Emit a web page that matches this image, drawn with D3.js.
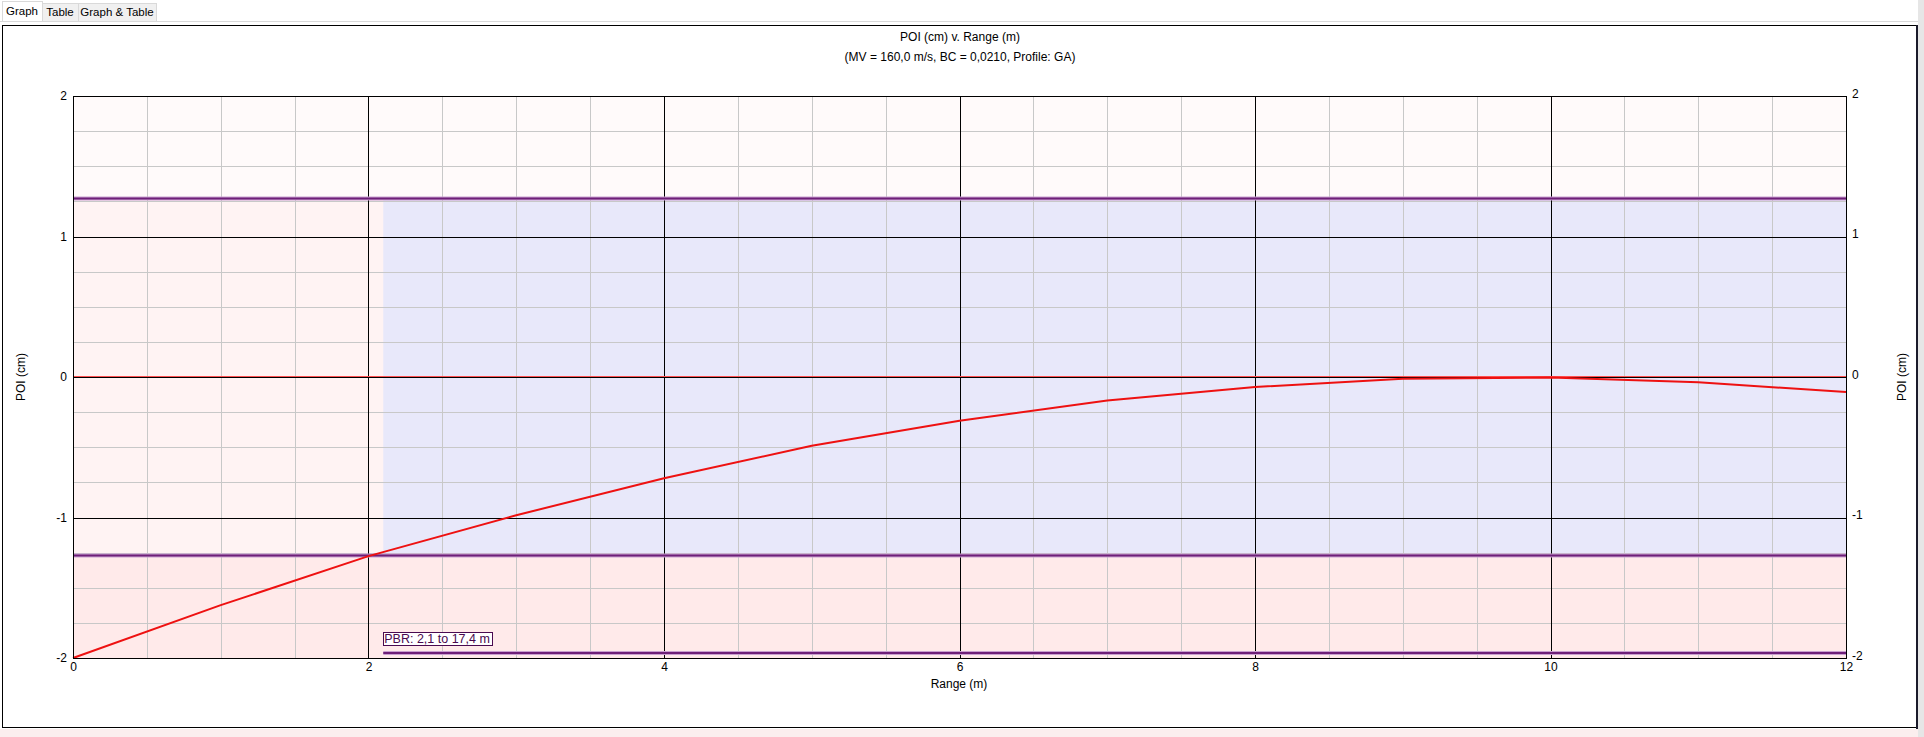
<!DOCTYPE html>
<html>
<head>
<meta charset="utf-8">
<script src="https://cdn.jsdelivr.net/npm/d3@7"></script>
<style>
  body { margin: 0; background: #fff; font-family: "Liberation Sans", Arial, sans-serif; }
  svg text { font-family: "Liberation Sans", Arial, sans-serif; }
</style>
</head>
<body>
<div id="chart"></div>
<script>
// data
var rangeM = [0, 1, 2, 3, 4, 5, 6, 7, 8, 9, 10, 11, 12];
var poiCm = [-2, -1.624, -1.275, -0.984, -0.72, -0.49, -0.312, -0.167, -0.071, -0.012, -0.003, -0.038, -0.107];
var xTicks = [0, 2, 4, 6, 8, 10, 12];
var yTicks = [-2, -1, 0, 1, 2];
var tabs = ["Graph", "Table", "Graph & Table"];
var zoneHalf = 1.27;
var pbrStart = 2.1;
var pbrLevel = -1.965;
var pbrLabel = "PBR: 2,1 to 17,4 m";

var W = 1924, H = 737;
var plotLeft = 73, plotRight = 1846, plotTop = 96, plotBottom = 658;

var svg = d3.select("#chart").append("svg")
    .attr("width", W)
    .attr("height", H);

// window chrome
svg.append("rect").attr("x", 0).attr("y", 729).attr("width", W).attr("height", 8).attr("fill", "#fbeeee");
svg.append("rect").attr("x", 1918).attr("y", 0).attr("width", 6).attr("height", H).attr("fill", "#e6e6e6");
svg.append("line").attr("x1", 0).attr("x2", 1918).attr("y1", 21.5).attr("y2", 21.5).attr("stroke", "#d9d9d9");

var tabWidths = [40, 36, 78];
var tx = 2;
var tabG = svg.append("g");
tabs.forEach(function(t, i) {
  var sel = i == 0;
  tabG.append("rect")
    .attr("x", tx + 0.5).attr("y", sel ? 1.5 : 3.5)
    .attr("width", tabWidths[i]).attr("height", sel ? 20 : 18)
    .attr("fill", sel ? "#fff" : "#f0f0f0")
    .attr("stroke", "#d9d9d9");
  tabG.append("text")
    .attr("x", tx + tabWidths[i] / 2).attr("y", sel ? 15 : 16)
    .attr("text-anchor", "middle")
    .attr("font-size", "11.5px")
    .text(t);
  tx += tabWidths[i];
});

svg.append("rect")
    .attr("x", 2.5).attr("y", 25.5).attr("width", 1914).attr("height", 702)
    .attr("fill", "#fff").attr("stroke", "#000");
svg.append("line").attr("x1", 1917).attr("x2", 1917).attr("y1", 25).attr("y2", 729)
    .attr("stroke", "#1a1a2a").attr("stroke-width", 2);

var x = d3.scaleLinear().domain([0, 12]).range([plotLeft, plotRight]);
var y = d3.scaleLinear().domain([-2, 2]).range([plotBottom, plotTop]);

var plot = svg.append("g");

// background zones
plot.append("rect")
    .attr("x", x(0)).attr("y", y(2)).attr("width", x(12) - x(0)).attr("height", y(zoneHalf) - y(2))
    .attr("fill", "#fffafa");
plot.append("rect")
    .attr("x", x(0)).attr("y", y(zoneHalf)).attr("width", x(12) - x(0)).attr("height", y(-zoneHalf) - y(zoneHalf))
    .attr("fill", "#fff3f3");
plot.append("rect")
    .attr("x", x(pbrStart)).attr("y", y(zoneHalf)).attr("width", x(12) - x(pbrStart)).attr("height", y(-zoneHalf) - y(zoneHalf))
    .attr("fill", "#e8e8fa");
plot.append("rect")
    .attr("x", x(0)).attr("y", y(-zoneHalf)).attr("width", x(12) - x(0)).attr("height", y(-2) - y(-zoneHalf))
    .attr("fill", "#ffeaea");

// minor grid
var xMinor = d3.range(0, 12.01, 0.5);
var yMinor = d3.range(-2, 2.01, 0.25);
plot.append("g").selectAll("line")
    .data(xMinor)
    .enter().append("line")
    .attr("x1", d => Math.round(x(d)) + 0.5).attr("x2", d => Math.round(x(d)) + 0.5)
    .attr("y1", y(2)).attr("y2", y(-2))
    .attr("stroke", "#c8c8c8");
plot.append("g").selectAll("line")
    .data(yMinor)
    .enter().append("line")
    .attr("y1", d => Math.round(y(d)) + 0.5).attr("y2", d => Math.round(y(d)) + 0.5)
    .attr("x1", x(0)).attr("x2", x(12))
    .attr("stroke", "#c8c8c8");

// major grid
plot.append("g").selectAll("line")
    .data(xTicks)
    .enter().append("line")
    .attr("x1", d => Math.round(x(d)) + 0.5).attr("x2", d => Math.round(x(d)) + 0.5)
    .attr("y1", y(2)).attr("y2", y(-2))
    .attr("stroke", "#000");
plot.append("g").selectAll("line")
    .data(yTicks)
    .enter().append("line")
    .attr("y1", d => Math.round(y(d)) + 0.5).attr("y2", d => Math.round(y(d)) + 0.5)
    .attr("x1", x(0)).attr("x2", x(12))
    .attr("stroke", "#000");

// sight line
plot.append("line")
    .attr("x1", x(0)).attr("x2", x(12))
    .attr("y1", Math.round(y(0)) - 0.5).attr("y2", Math.round(y(0)) - 0.5)
    .attr("stroke", "#ff5050");

// zone limits
[zoneHalf, -zoneHalf].forEach(function(v) {
  plot.append("line")
    .attr("x1", x(0)).attr("x2", x(12))
    .attr("y1", y(v)).attr("y2", y(v))
    .attr("stroke", "#c9a0d0").attr("stroke-width", 4);
  plot.append("line")
    .attr("x1", x(0)).attr("x2", x(12))
    .attr("y1", y(v)).attr("y2", y(v))
    .attr("stroke", "#6e1f78").attr("stroke-width", 2);
});

// PBR marker
plot.append("line")
    .attr("x1", x(pbrStart)).attr("x2", x(12))
    .attr("y1", y(pbrLevel)).attr("y2", y(pbrLevel))
    .attr("stroke", "#c9a0d0").attr("stroke-width", 4);
plot.append("line")
    .attr("x1", x(pbrStart)).attr("x2", x(12))
    .attr("y1", y(pbrLevel)).attr("y2", y(pbrLevel))
    .attr("stroke", "#6e1f78").attr("stroke-width", 2);

var pbrText = plot.append("text")
    .attr("x", x(pbrStart) + 1).attr("y", y(pbrLevel) - 10)
    .attr("font-size", "12.5px")
    .attr("fill", "#4a0a50")
    .text(pbrLabel);
var bb = pbrText.node().getBBox();
plot.insert("rect", "text")
    .attr("x", Math.round(bb.x) - 0.5).attr("y", Math.round(bb.y) + 0.5)
    .attr("width", Math.round(bb.width) + 3).attr("height", Math.round(bb.height) - 1)
    .attr("fill", "#fff")
    .attr("stroke", "#4a0a50");

// trajectory
var line = d3.line().x((d, i) => x(rangeM[i])).y(d => y(d));
plot.append("path")
    .datum(poiCm)
    .attr("d", line)
    .attr("fill", "none")
    .attr("stroke", "#ee1111")
    .attr("stroke-width", 2);

// frame
plot.append("rect")
    .attr("x", plotLeft + 0.5).attr("y", plotTop + 0.5)
    .attr("width", plotRight - plotLeft).attr("height", plotBottom - plotTop)
    .attr("fill", "none").attr("stroke", "#000");

// axes (labels only)
var fmt = d => String(d);
var axL = svg.append("g").attr("transform", "translate(" + plotLeft + ",0)")
    .call(d3.axisLeft(y).tickValues(yTicks).tickSize(0).tickPadding(6).tickFormat(fmt));
var axR = svg.append("g").attr("transform", "translate(" + plotRight + ",0)")
    .call(d3.axisRight(y).tickValues(yTicks).tickSize(0).tickPadding(6).tickFormat(fmt));
var axB = svg.append("g").attr("transform", "translate(0," + plotBottom + ")")
    .call(d3.axisBottom(x).tickValues(xTicks).tickSize(0).tickPadding(4).tickFormat(fmt));
[axL, axR, axB].forEach(function(a) {
  a.select(".domain").remove();
  a.selectAll("text").attr("font-size", "12px").attr("font-family", "Liberation Sans, Arial, sans-serif").attr("fill", "#000");
});
axR.selectAll("text").attr("dy", "0.1em");

// titles
svg.append("text").attr("x", 960).attr("y", 41).attr("text-anchor", "middle")
    .attr("font-size", "12px").text("POI (cm) v. Range (m)");
svg.append("text").attr("x", 960).attr("y", 61).attr("text-anchor", "middle")
    .attr("font-size", "12px").text("(MV = 160,0 m/s, BC = 0,0210, Profile: GA)");
svg.append("text").attr("x", 959).attr("y", 688).attr("text-anchor", "middle")
    .attr("font-size", "12px").text("Range (m)");
svg.append("text").attr("transform", "translate(25,377) rotate(-90)").attr("text-anchor", "middle")
    .attr("font-size", "12px").text("POI (cm)");
svg.append("text").attr("transform", "translate(1906,377) rotate(-90)").attr("text-anchor", "middle")
    .attr("font-size", "12px").text("POI (cm)");
</script>
</body>
</html>
